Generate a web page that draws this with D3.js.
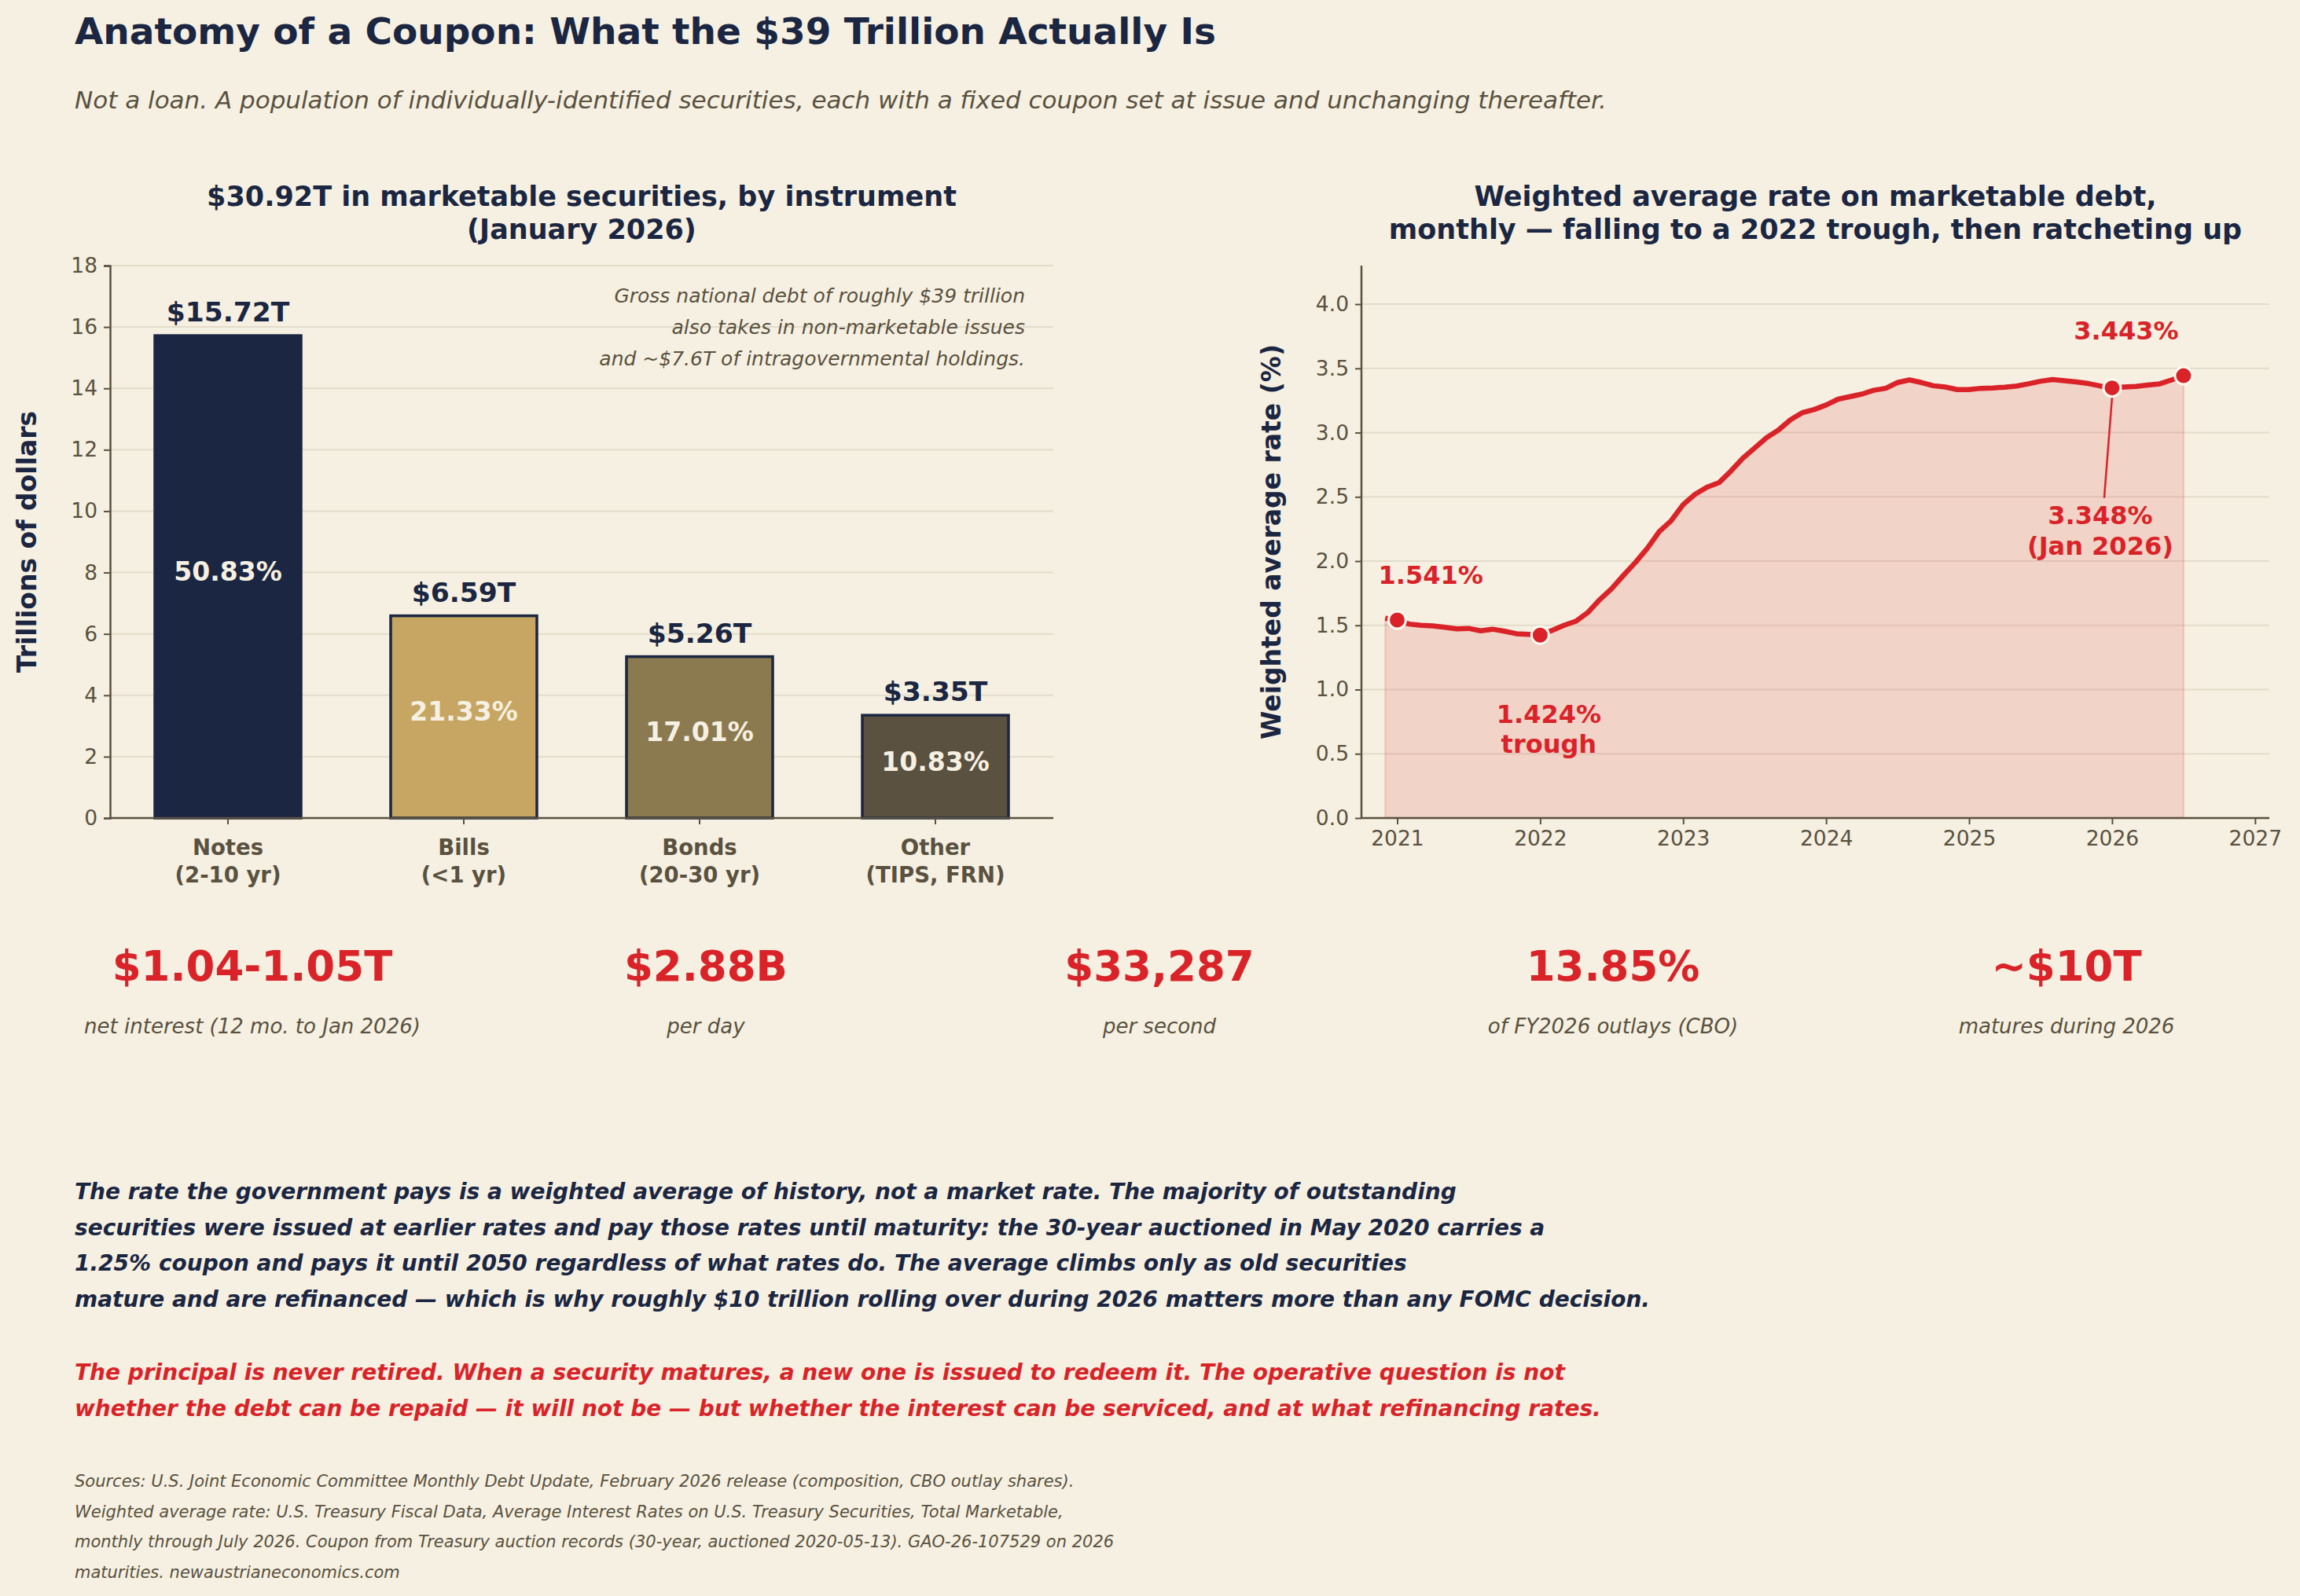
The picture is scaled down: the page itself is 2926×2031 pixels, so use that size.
<!DOCTYPE html>
<html>
<head>
<meta charset="utf-8">
<script src="https://cdn.jsdelivr.net/npm/d3@7"></script>
<style>
  body { margin: 0; background: #f5f0e1; }
  svg { display: block; font-family: "DejaVu Sans", sans-serif; }
</style>
</head>
<body>
<svg id="chart"></svg>
<script>
// ---- data ----
const categories = ["Notes", "Bills", "Bonds", "Other"];
const subLabels = ["(2-10 yr)", "(<1 yr)", "(20-30 yr)", "(TIPS, FRN)"];
const amounts = [15.72, 6.59, 5.26, 3.35];
const shares = [50.83, 21.33, 17.01, 10.83];
const barColors = ["#1b2642", "#c6a662", "#8b7a4f", "#5a5140"];

// weighted average rate, monthly Dec 2020 .. Jul 2026
const rateStart = 2020 + 11 / 12;
const rates = [
  1.555,
  1.541, 1.510, 1.500, 1.495, 1.485, 1.473, 1.476, 1.457, 1.470, 1.454, 1.435, 1.430,
  1.424, 1.460, 1.500, 1.532, 1.600, 1.700, 1.785, 1.890, 1.990, 2.100, 2.230, 2.315,
  2.440, 2.520, 2.575, 2.610, 2.700, 2.800, 2.880, 2.960, 3.020, 3.100, 3.155, 3.180,
  3.215, 3.260, 3.280, 3.300, 3.330, 3.345, 3.390, 3.410, 3.390, 3.365, 3.355, 3.335,
  3.335, 3.345, 3.348, 3.354, 3.363, 3.380, 3.400, 3.413, 3.404, 3.395, 3.382, 3.363,
  3.348, 3.355, 3.360, 3.370, 3.380, 3.410, 3.443
];
const rateMarks = [
  { t: 2021, v: 1.541 },
  { t: 2022, v: 1.424 },
  { t: 2026, v: 3.348 },
  { t: 2026.5, v: 3.443 }
];

const kpiValues = ["$1.04-1.05T", "$2.88B", "$33,287", "13.85%", "~$10T"];
const kpiLabels = ["net interest (12 mo. to Jan 2026)", "per day", "per second",
  "of FY2026 outlays (CBO)", "matures during 2026"];

const bodyLines = [
  "The rate the government pays is a weighted average of history, not a market rate. The majority of outstanding",
  "securities were issued at earlier rates and pay those rates until maturity: the 30-year auctioned in May 2020 carries a",
  "1.25% coupon and pays it until 2050 regardless of what rates do. The average climbs only as old securities",
  "mature and are refinanced \u2014 which is why roughly $10 trillion rolling over during 2026 matters more than any FOMC decision."
];
const redLines = [
  "The principal is never retired. When a security matures, a new one is issued to redeem it. The operative question is not",
  "whether the debt can be repaid \u2014 it will not be \u2014 but whether the interest can be serviced, and at what refinancing rates."
];
const sourceLines = [
  "Sources: U.S. Joint Economic Committee Monthly Debt Update, February 2026 release (composition, CBO outlay shares).",
  "Weighted average rate: U.S. Treasury Fiscal Data, Average Interest Rates on U.S. Treasury Securities, Total Marketable,",
  "monthly through July 2026. Coupon from Treasury auction records (30-year, auctioned 2020-05-13). GAO-26-107529 on 2026",
  "maturities. newaustrianeconomics.com"
];

// ---- setup ----
const W = 2926, H = 2031;
const navy = "#1b2642", muted = "#5a5140", red = "#d92329", grid = "#e3dccb";

const svg = d3.select("#chart").attr("width", W).attr("height", H);
svg.append("rect").attr("width", W).attr("height", H).attr("fill", "#f5f0e1");

svg.append("text").attr("x", 95).attr("y", 56)
  .attr("font-size", 47).attr("font-weight", "bold").attr("fill", navy)
  .text("Anatomy of a Coupon: What the $39 Trillion Actually Is");
svg.append("text").attr("x", 95).attr("y", 138)
  .attr("font-size", 31).attr("font-style", "italic").attr("fill", muted)
  .text("Not a loan. A population of individually-identified securities, each with a fixed coupon set at issue and unchanging thereafter.");

function styleAxis(g) {
  g.selectAll(".domain").attr("stroke", muted).attr("stroke-width", 2.5);
  g.selectAll(".tick line").attr("stroke", muted).attr("stroke-width", 2);
  g.selectAll(".tick text").attr("fill", muted).attr("font-size", 26.5)
    .attr("font-family", "DejaVu Sans");
}

// ---- bar chart ----
const b = { left: 140, right: 1340, top: 338, bottom: 1041 };
const xb = d3.scaleBand().domain(categories).range([b.left, b.right])
  .paddingInner(0.38).paddingOuter(0.19);
const yb = d3.scaleLinear().domain([0, 18]).range([b.bottom, b.top]);

const gb = svg.append("g");
gb.append("g").selectAll("line").data(yb.ticks(9)).join("line")
  .attr("x1", b.left).attr("x2", b.right)
  .attr("y1", d => yb(d)).attr("y2", d => yb(d))
  .attr("stroke", grid).attr("stroke-width", 2);

gb.append("g").selectAll("rect").data(categories).join("rect")
  .attr("x", d => xb(d)).attr("width", xb.bandwidth())
  .attr("y", (d, i) => yb(amounts[i]))
  .attr("height", (d, i) => yb(0) - yb(amounts[i]))
  .attr("fill", (d, i) => barColors[i])
  .attr("stroke", navy).attr("stroke-width", 3.5);

gb.append("g").selectAll("text").data(categories).join("text")
  .attr("x", d => xb(d) + xb.bandwidth() / 2)
  .attr("y", (d, i) => yb(amounts[i]) - 18)
  .attr("text-anchor", "middle").attr("font-size", 34.5).attr("font-weight", "bold")
  .attr("fill", navy)
  .text((d, i) => "$" + amounts[i].toFixed(2) + "T");

gb.append("g").selectAll("text").data(categories).join("text")
  .attr("x", d => xb(d) + xb.bandwidth() / 2)
  .attr("y", (d, i) => yb(amounts[i] / 2) + 5)
  .attr("text-anchor", "middle").attr("font-size", 33).attr("font-weight", "bold")
  .attr("fill", "#f5f0e1")
  .text((d, i) => shares[i].toFixed(2) + "%");

const yAxB = gb.append("g").attr("transform", `translate(${b.left},0)`)
  .call(d3.axisLeft(yb).ticks(9).tickSize(8).tickPadding(8));
styleAxis(yAxB);
const xAxB = gb.append("g").attr("transform", `translate(0,${b.bottom})`)
  .call(d3.axisBottom(xb).tickSize(8).tickFormat(""));
styleAxis(xAxB);
xAxB.select(".domain").attr("d", `M${b.left},0H${b.right}`);

const catText = gb.append("g").selectAll("text").data(categories).join("text")
  .attr("x", d => xb(d) + xb.bandwidth() / 2)
  .attr("text-anchor", "middle").attr("font-size", 27.5).attr("font-weight", "bold")
  .attr("fill", muted);
catText.append("tspan").attr("x", d => xb(d) + xb.bandwidth() / 2).attr("y", b.bottom + 47).text(d => d);
catText.append("tspan").attr("x", d => xb(d) + xb.bandwidth() / 2).attr("y", b.bottom + 82)
  .text((d, i) => subLabels[i]);

gb.append("text")
  .attr("transform", `translate(46,${(b.top + b.bottom) / 2}) rotate(-90)`)
  .attr("text-anchor", "middle").attr("font-size", 33).attr("font-weight", "bold")
  .attr("fill", navy).text("Trillions of dollars");

const tb = gb.append("text").attr("text-anchor", "middle").attr("font-size", 35)
  .attr("font-weight", "bold").attr("fill", navy);
tb.append("tspan").attr("x", (b.left + b.right) / 2).attr("y", 262)
  .text("$30.92T in marketable securities, by instrument");
tb.append("tspan").attr("x", (b.left + b.right) / 2).attr("y", 304).text("(January 2026)");

const note = gb.append("text").attr("text-anchor", "end").attr("font-size", 25)
  .attr("font-style", "italic").attr("fill", muted);
["Gross national debt of roughly $39 trillion",
 "also takes in non-marketable issues",
 "and ~$7.6T of intragovernmental holdings."].forEach((s, i) =>
  note.append("tspan").attr("x", 1304).attr("y", 385 + i * 40).text(s));

// ---- line chart ----
const l = { left: 1732, right: 2887, top: 338, bottom: 1041 };
const xl = d3.scaleLinear().domain([2020.75, 2027.1]).range([l.left, l.right]);
const yl = d3.scaleLinear().domain([0, 4.3]).range([l.bottom, l.top]);
const rateData = rates.map((v, i) => ({ t: rateStart + i / 12, v }));

const gl = svg.append("g");
gl.append("g").selectAll("line").data(d3.range(0, 4.01, 0.5)).join("line")
  .attr("x1", l.left).attr("x2", l.right)
  .attr("y1", d => yl(d)).attr("y2", d => yl(d))
  .attr("stroke", grid).attr("stroke-width", 2);

gl.append("path").datum(rateData)
  .attr("d", d3.area().x(d => xl(d.t)).y0(yl(0)).y1(d => yl(d.v)))
  .attr("fill", red).attr("fill-opacity", 0.14)
  .attr("stroke", red).attr("stroke-opacity", 0.15).attr("stroke-width", 2.5);

gl.append("path").datum(rateData)
  .attr("d", d3.line().x(d => xl(d.t)).y(d => yl(d.v)))
  .attr("fill", "none").attr("stroke", red).attr("stroke-width", 6.5)
  .attr("stroke-linejoin", "round");

const yAxL = gl.append("g").attr("transform", `translate(${l.left},0)`)
  .call(d3.axisLeft(yl).tickValues(d3.range(0, 4.01, 0.5)).tickFormat(d3.format(".1f"))
    .tickSize(8).tickPadding(8));
styleAxis(yAxL);
yAxL.select(".domain").attr("d", `M0,${l.top}V${l.bottom}`);
const xAxL = gl.append("g").attr("transform", `translate(0,${l.bottom})`)
  .call(d3.axisBottom(xl).tickValues(d3.range(2021, 2028)).tickFormat(d3.format("d"))
    .tickSize(8).tickPadding(8));
styleAxis(xAxL);
xAxL.select(".domain").attr("d", `M${l.left},0H${l.right}`);

// annotation arrow for Jan 2026
gl.append("line")
  .attr("x1", xl(2026) - 10).attr("y1", yl(3.348) + 140)
  .attr("x2", xl(2026)).attr("y2", yl(3.348) + 12)
  .attr("stroke", red).attr("stroke-width", 2.5);

gl.append("g").selectAll("circle").data(rateMarks).join("circle")
  .attr("cx", d => xl(d.t)).attr("cy", d => yl(d.v)).attr("r", 11)
  .attr("fill", red).attr("stroke", "#fbf8f0").attr("stroke-width", 3);

const ann = gl.append("g").attr("font-size", 32).attr("font-weight", "bold").attr("fill", red);
ann.append("text").attr("x", xl(2021) - 24).attr("y", yl(1.541) - 46).text("1.541%");
const a2 = ann.append("text").attr("text-anchor", "middle");
a2.append("tspan").attr("x", xl(2022) + 11).attr("y", yl(1.424) + 112).text("1.424%");
a2.append("tspan").attr("x", xl(2022) + 11).attr("y", yl(1.424) + 150).text("trough");
ann.append("text").attr("text-anchor", "middle")
  .attr("x", xl(2026.5) - 73).attr("y", yl(3.443) - 46).text("3.443%");
const a4 = ann.append("text").attr("text-anchor", "middle");
a4.append("tspan").attr("x", xl(2026) - 15).attr("y", yl(3.348) + 173).text("3.348%");
a4.append("tspan").attr("x", xl(2026) - 15).attr("y", yl(3.348) + 212).text("(Jan 2026)");

gl.append("text")
  .attr("transform", `translate(1629,${(l.top + l.bottom) / 2}) rotate(-90)`)
  .attr("text-anchor", "middle").attr("font-size", 33).attr("font-weight", "bold")
  .attr("fill", navy).text("Weighted average rate (%)");

const tl = gl.append("text").attr("text-anchor", "middle").attr("font-size", 35)
  .attr("font-weight", "bold").attr("fill", navy);
tl.append("tspan").attr("x", (l.left + l.right) / 2).attr("y", 262)
  .text("Weighted average rate on marketable debt,");
tl.append("tspan").attr("x", (l.left + l.right) / 2).attr("y", 304)
  .text("monthly \u2014 falling to a 2022 trough, then ratcheting up");

// ---- KPI row ----
const xk = d3.scalePoint().domain(d3.range(kpiValues.length)).range([321, 2629]);
const gk = svg.append("g");
gk.selectAll("text.v").data(kpiValues).join("text").attr("class", "v")
  .attr("x", (d, i) => xk(i)).attr("y", 1248).attr("text-anchor", "middle")
  .attr("font-size", 53).attr("font-weight", "bold").attr("fill", red).text(d => d);
gk.selectAll("text.l").data(kpiLabels).join("text").attr("class", "l")
  .attr("x", (d, i) => xk(i)).attr("y", 1315).attr("text-anchor", "middle")
  .attr("font-size", 26).attr("font-style", "italic").attr("fill", muted).text(d => d);

// ---- body text ----
const gt = svg.append("g").attr("font-weight", "bold").attr("font-style", "italic");
gt.selectAll("text.b").data(bodyLines).join("text").attr("class", "b")
  .attr("x", 95).attr("y", (d, i) => 1526 + i * 45.5)
  .attr("font-size", 28).attr("fill", navy).text(d => d);
gt.selectAll("text.r").data(redLines).join("text").attr("class", "r")
  .attr("x", 95).attr("y", (d, i) => 1756 + i * 45.5)
  .attr("font-size", 28).attr("fill", red).text(d => d);

svg.append("g").selectAll("text").data(sourceLines).join("text")
  .attr("x", 95).attr("y", (d, i) => 1892 + i * 38.5)
  .attr("font-size", 21).attr("font-style", "italic").attr("fill", muted).text(d => d);
</script>
</body>
</html>
